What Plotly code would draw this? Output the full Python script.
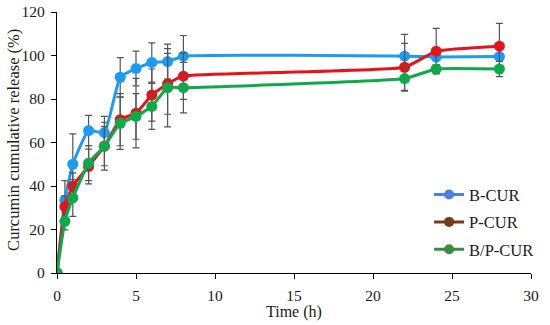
import plotly.graph_objects as go

time_h = [0, 0.5, 1, 2, 3, 4, 5, 6, 7, 8, 22, 24, 28]

b_cur = [0, 33.5, 50, 65.5, 64.5, 90, 94, 96.8, 97.2, 99.7, 99.7, 99.3, 99.5]
b_cur_err = [0, 9, 14, 7, 7.5, 9, 8, 9, 8, 9.5, 10, 1, 1]

p_cur = [0, 30.5, 40, 49, 58.3, 70.5, 73.5, 81.8, 87, 90.5, 94.6, 102, 104.3]
p_cur_err = [0, 5, 6, 8, 11, 12, 16, 12, 14, 10.7, 11, 10.5, 10.5]

bp_cur = [0, 23.8, 34.5, 50.5, 58.3, 68.8, 72, 76.6, 85.2, 85.2, 89.4, 93.8, 93.8]
bp_cur_err = [0, 4, 8.5, 8, 9, 12, 10.5, 10.6, 18, 11.6, 5.4, 2, 3.5]

series_names = ["B-CUR", "P-CUR", "B/P-CUR"]
line_colors = ["#1d9bf0", "#e3141c", "#10a84a"]
legend_colors = ["#4a80e0", "#7a3814", "#3e8a40"]

x_title = "Time (h)"
y_title = "Curcumin cumulative release (%)"

font_family = "Liberation Serif, DejaVu Serif, serif"

fig = go.Figure()

for name, vals, errs, col in zip(series_names,
                                 [b_cur, p_cur, bp_cur],
                                 [b_cur_err, p_cur_err, bp_cur_err],
                                 line_colors):
    fig.add_trace(go.Scatter(
        x=time_h, y=vals, name=name, showlegend=False,
        mode="lines+markers",
        line=dict(color=col, width=3, shape="spline", smoothing=0.4),
        marker=dict(color=col, size=11),
        error_y=dict(type="data", array=errs, visible=True,
                     color="#555555", thickness=1.2, width=3.5),
    ))

for i, (name, col) in enumerate(zip(series_names, legend_colors)):
    fig.add_trace(go.Scatter(
        x=[None], y=[None], name=name, legendgroup=f"g{i}",
        mode="lines+markers",
        line=dict(color=col, width=3),
        marker=dict(color=col, size=10),
    ))

fig.add_annotation(text=x_title, xref="paper", yref="paper",
                   x=0.5, y=-0.15, xanchor="center", yanchor="middle",
                   showarrow=False, font=dict(family=font_family, size=16))
fig.add_annotation(text=y_title, xref="paper", yref="paper",
                   x=-0.0923, y=0.511, xanchor="center", yanchor="middle",
                   textangle=-90, showarrow=False,
                   font=dict(family=font_family, size=16.5))

fig.update_layout(
    width=550, height=325,
    margin=dict(l=57, r=11, t=12, b=52),
    paper_bgcolor="white", plot_bgcolor="white",
    font=dict(family=font_family, size=15, color="#1a1a1a"),
    legend=dict(x=0.785, y=0.367, xanchor="left", yanchor="top",
                bgcolor="rgba(0,0,0,0)", tracegroupgap=3,
                font=dict(family=font_family, size=16.5),
                itemwidth=30),
    xaxis=dict(range=[0, 30], tickvals=[0, 5, 10, 15, 20, 25, 30],
               showgrid=False, zeroline=False, showline=True,
               linecolor="black", linewidth=1.3, automargin=False,
               ticks="outside", ticklen=5, tickcolor="black",
               ticklabelstandoff=3,
               tickfont=dict(family=font_family, size=15.5)),
    yaxis=dict(range=[0, 120], tickvals=[0, 20, 40, 60, 80, 100, 120],
               showgrid=False, zeroline=False, showline=True,
               linecolor="black", linewidth=1.3, automargin=False,
               ticks="outside", ticklen=5, tickcolor="black",
               ticklabelstandoff=3,
               tickfont=dict(family=font_family, size=15.5)),
)

fig.write_html("out.html", config={"displayModeBar": False},
               post_script="document.body.style.margin='0px';")
